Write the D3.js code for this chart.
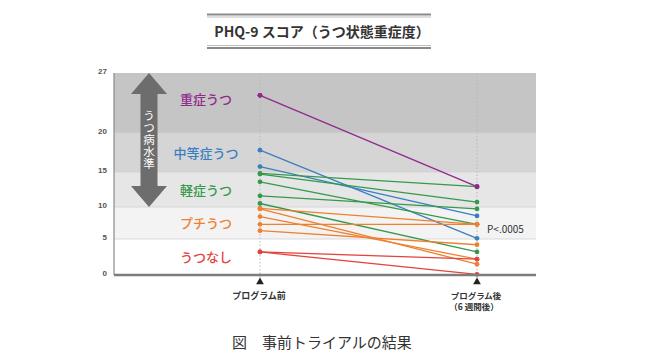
<!DOCTYPE html>
<html><head><meta charset="utf-8">
<script src="https://cdn.jsdelivr.net/npm/d3@7"></script>
<style>
html,body{margin:0;padding:0;background:#fff;}
svg{display:block;font-family:"Noto Sans CJK JP","Noto Sans",sans-serif;}
</style></head>
<body>
<svg id="chart" width="650" height="356"></svg>
<script>
// ---- data ----
const title = "PHQ-9 スコア（うつ状態重症度）";
const caption = "図\u3000事前トライアルの結果";
const phases = ["プログラム前", "プログラム後"];
const phaseSub = ["", "（6 週間後）"];
const yTicks = [0, 5, 10, 15, 20, 27];
const bandLabels = ["うつなし", "プチうつ", "軽症うつ", "中等症うつ", "重症うつ"];
const bandLows = [0, 5, 10, 15, 20];
const bandHighs = [5, 10, 15, 20, 27];
const bandFills = ["#ffffff", "#f3f3f3", "#e6e6e6", "#d5d5d5", "#c5c5c5"];
const bandColors = ["#e2443f", "#ee8030", "#35994b", "#3a7fc2", "#912a8c"];
// each subject: severity group index (into bandLabels), pre score, post score
const group = [4, 3, 3, 2, 2, 2, 2, 2, 1, 1, 1, 1, 1, 0, 0];
const preScores = [24.4, 17.8, 15.7, 14.8, 14.7, 13.6, 11.6, 10.5, 9.8, 9.7, 8.5, 7.3, 6.3, 3.2, 3.2];
const postScores = [12.9, 5.1, 8.6, 12.9, 10.7, 7.3, 9.7, 3.2, 7.3, 1.5, 2.2, 7.3, 4.2, 0.1, 2.2];
const arrowText = "うつ病水準";
const pText = "P<.0005";

// ---- layout ----
const svg = d3.select("#chart");
const left = 114, right = 536;
const y = d3.scaleLinear().domain(yTicks).range([275, 239, 207, 172, 133, 73]);
const x = d3.scalePoint().domain(phases).range([260, 477]);
const font = '"Noto Sans CJK JP","Noto Sans",sans-serif';

// title with double rules
const tg = svg.append("g");
tg.append("line").attr("x1", 207).attr("x2", 431).attr("y1", 14.5).attr("y2", 14.5).attr("stroke", "#8a8a8a").attr("stroke-width", 2);
tg.append("line").attr("x1", 207).attr("x2", 431).attr("y1", 17).attr("y2", 17).attr("stroke", "#bdbdbd").attr("stroke-width", 1);
tg.append("line").attr("x1", 207).attr("x2", 431).attr("y1", 45.5).attr("y2", 45.5).attr("stroke", "#bdbdbd").attr("stroke-width", 1);
tg.append("line").attr("x1", 207).attr("x2", 431).attr("y1", 48).attr("y2", 48).attr("stroke", "#8a8a8a").attr("stroke-width", 2);
tg.append("text").attr("x", 322).attr("y", 37).attr("text-anchor", "middle")
  .attr("font-size", 14).attr("font-weight", 700).attr("fill", "#333").text(title);

// bands
const bands = bandLows.map((lo, i) => ({lo, hi: bandHighs[i], fill: bandFills[i], label: bandLabels[i], color: bandColors[i]}));
svg.append("g").selectAll("rect").data(bands).join("rect")
  .attr("x", left).attr("width", right - left)
  .attr("y", d => y(d.hi)).attr("height", d => y(d.lo) - y(d.hi))
  .attr("fill", d => d.fill);
svg.append("g").selectAll("line").data(bandLows.slice(1)).join("line")
  .attr("x1", left).attr("x2", right).attr("y1", d => y(d)).attr("y2", d => y(d))
  .attr("stroke", "#d0d0d0").attr("stroke-width", 0.8);

// y axis ticks text
svg.append("g").selectAll("text").data(yTicks).join("text")
  .attr("x", 107).attr("y", d => y(d) + 1).attr("text-anchor", "end")
  .attr("font-size", 8).attr("font-weight", 700).attr("fill", "#555")
  .attr("font-family", "Liberation Sans, sans-serif").text(d => d);
svg.append("line").attr("x1", left).attr("x2", left).attr("y1", y(27)).attr("y2", y(0))
  .attr("stroke", "#8a8a8a").attr("stroke-width", 1.2);

// dotted phase guides
svg.append("g").selectAll("line").data(phases).join("line")
  .attr("x1", d => x(d)).attr("x2", d => x(d)).attr("y1", y(27)).attr("y2", y(0) + 6)
  .attr("stroke", "#b8b8b8").attr("stroke-width", 1).attr("stroke-dasharray", "1.5,2");

// arrow
const ax = 149, at = y(27), ab = y(10);
const arrowPath = d3.path();
arrowPath.moveTo(ax, at);
arrowPath.lineTo(ax + 18, at + 21);
arrowPath.lineTo(ax + 8.5, at + 21);
arrowPath.lineTo(ax + 8.5, ab - 21);
arrowPath.lineTo(ax + 18, ab - 21);
arrowPath.lineTo(ax, ab);
arrowPath.lineTo(ax - 18, ab - 21);
arrowPath.lineTo(ax - 8.5, ab - 21);
arrowPath.lineTo(ax - 8.5, at + 21);
arrowPath.lineTo(ax - 18, at + 21);
arrowPath.closePath();
svg.append("path").attr("d", arrowPath.toString()).attr("fill", "#6d6d6d");
svg.append("text").attr("x", ax).attr("y", 110)
  .style("writing-mode", "vertical-rl").style("glyph-orientation-vertical", "0")
  .attr("font-size", 11.5).attr("letter-spacing", 0.5).attr("fill", "#fff").text(arrowText);

// band labels
svg.append("g").selectAll("text").data(bands).join("text")
  .attr("x", 206).attr("y", d => (y(d.lo) + y(d.hi)) / 2 + 5 + (d.lo === 20 ? -4 : 0))
  .attr("text-anchor", "middle").attr("font-size", 13).attr("font-weight", 500)
  .attr("fill", d => d.color).text(d => d.label);

// subjects
const subjects = group.map((g, i) => ({g, pre: preScores[i], post: postScores[i]}));
const lg = svg.append("g");
lg.selectAll("line").data(subjects).join("line")
  .attr("x1", x(phases[0])).attr("x2", x(phases[1]))
  .attr("y1", d => y(d.pre)).attr("y2", d => y(d.post))
  .attr("stroke", d => bandColors[d.g]).attr("stroke-width", 1.3);
const pts = subjects.flatMap(d => [{g: d.g, p: phases[0], v: d.pre}, {g: d.g, p: phases[1], v: d.post}]);
lg.selectAll("circle").data(pts).join("circle")
  .attr("cx", d => x(d.p)).attr("cy", d => y(d.v)).attr("r", 2.4)
  .attr("fill", d => bandColors[d.g]);
// purple on top
lg.selectAll("circle.top").data(pts.filter(d => d.g === 4)).join("circle").attr("class", "top")
  .attr("cx", d => x(d.p)).attr("cy", d => y(d.v)).attr("r", 2.4).attr("fill", bandColors[4]);

// bottom axis
svg.append("line").attr("x1", left).attr("x2", right).attr("y1", y(0)).attr("y2", y(0))
  .attr("stroke", "#7d7d7d").attr("stroke-width", 2.5);

// phase markers and labels (one text element per phase, sub-line as tspan)
const pg = svg.append("g");
pg.selectAll("path").data(phases).join("path")
  .attr("d", d3.symbol().type(d3.symbolTriangle).size(26))
  .attr("transform", d => `translate(${x(d)},282)`).attr("fill", "#222");
const pt = pg.selectAll("text.ph").data(phases).join("text").attr("class", "ph")
  .attr("y", 299).attr("text-anchor", "middle")
  .attr("font-size", (d, i) => i === 0 ? 9 : 8.5).attr("font-weight", 700).attr("fill", "#333");
pt.append("tspan").attr("x", d => x(d) - 1).text(d => d);
pt.filter((d, i) => phaseSub[i]).append("tspan")
  .attr("x", d => x(d) - 3).attr("dy", 10.5)
  .text(d => phaseSub[phases.indexOf(d)]);

// p value
svg.append("text").attr("x", 487).attr("y", 233).attr("font-size", 10).attr("fill", "#333")
  .attr("font-family", font).text(pText);

// caption
svg.append("text").attr("x", 232).attr("y", 348).attr("font-size", 15).attr("fill", "#333").text(caption);
</script>
</body></html>
